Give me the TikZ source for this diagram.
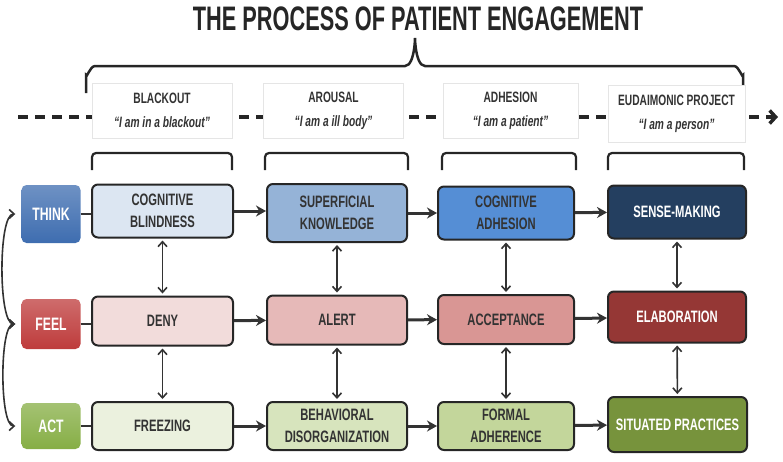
\documentclass[tikz,border=0pt]{standalone}
\usepackage{fontspec}
\setmainfont{Liberation Sans}[FakeStretch=0.68]
\newfontfamily\titlefont{Liberation Sans}[FakeStretch=0.64]
\usepackage{tikz}
\usetikzlibrary{arrows.meta,positioning}
\definecolor{txt}{HTML}{333333}
\definecolor{thinkc}{HTML}{3E6DB0}
\definecolor{feelc}{HTML}{BE3B3B}
\definecolor{actc}{HTML}{86AE45}
\definecolor{tone}{HTML}{DCE6F2}
\definecolor{ttwo}{HTML}{95B3D7}
\definecolor{tthree}{HTML}{558ED5}
\definecolor{tfour}{HTML}{243F60}
\definecolor{fone}{HTML}{F2DCDB}
\definecolor{ftwo}{HTML}{E6B9B8}
\definecolor{fthree}{HTML}{D99694}
\definecolor{ffour}{HTML}{953735}
\definecolor{aone}{HTML}{EBF1DE}
\definecolor{atwo}{HTML}{D7E4BD}
\definecolor{athree}{HTML}{C3D69B}
\definecolor{afour}{HTML}{77933C}

\begin{document}
\begin{tikzpicture}[x=1pt, y=-1pt,
  every node/.style={font=\fontsize{16.5}{22}\selectfont\bfseries, text=txt, align=center, inner sep=2pt},
  stagebox/.style={draw=black!85, line width=2pt, rounded corners=6pt, fill=#1},
  rowbox/.style={rounded corners=5pt, top color=#1!75!white, bottom color=#1, minimum width=59pt, text=white, font=\fontsize{18}{18}\selectfont\bfseries},
  headbox/.style={fill=white, draw=black!10, minimum width=140pt, minimum height=55pt, font=\fontsize{15}{24}\selectfont\bfseries},
  link/.style={line width=2pt, black!80},
  flow/.style={line width=3pt, black!80, -{Stealth[length=10pt,width=11pt]}},
  updown/.style={line width=1.6pt, black!80, {Straight Barb[length=5pt,width=9pt]}-{Straight Barb[length=5pt,width=9pt]}, shorten >=2pt, shorten <=2pt},
  bracket/.style={line width=2.2pt, black!85, rounded corners=4pt}]
  \useasboundingbox (0,0) rectangle (783,461);

  \node[font=\titlefont\fontsize{34}{34}\selectfont\bfseries, text=black!85] (title) at (418,19) {THE PROCESS OF PATIENT ENGAGEMENT};
  \draw[line width=2.5pt, black!85] (86,93) -- (86,75) to[out=-90,in=180] (95,66) -- (405,66) to[out=0,in=90] (415,40) to[out=90,in=180] (425,66) -- (734,66) to[out=0,in=-90] (743,75) -- (743,93);

  \coordinate (ds) at (18,117);
  \coordinate (de) at (778,117);
  \draw[line width=3.5pt, black!85, dash pattern=on 10pt off 7pt, -{Straight Barb[length=6pt,width=13pt]}] (ds) -- (de);

  \node[headbox] (h1) at (162,110.5) {BLACKOUT\\\textit{“I am in a blackout”}};
  \node[headbox] (h2) at (333.5,110.5) {AROUSAL\\\textit{“I am a ill body”}};
  \node[headbox, minimum width=135pt] (h3) at (510.5,110.5) {ADHESION\\\textit{“I am a patient”}};
  \node[headbox, minimum width=137pt, minimum height=57pt] (h4) at (676.5,113.5) {EUDAIMONIC PROJECT\\\textit{“I am a person”}};

  \draw[bracket] (92,170) |- (232,153) -- (232,170);
  \draw[bracket] (265,170) |- (408,153) -- (408,170);
  \draw[bracket] (442,170) |- (576,153) -- (576,170);
  \draw[bracket] (608,170) |- (744,153) -- (744,170);

  \node[rowbox=thinkc, minimum height=58pt] (think) at (51,214) {THINK};
  \node[rowbox=feelc, minimum height=50pt] (feel) at (51,324) {FEEL};
  \node[rowbox=actc, minimum height=46pt] (act) at (51,426) {ACT};

  \node[stagebox=tone, minimum width=141pt, minimum height=53pt] (t1) at (162.5,211) {COGNITIVE\\BLINDNESS};
  \node[stagebox=ttwo, minimum width=140pt, minimum height=58pt] (t2) at (337,213) {SUPERFICIAL\\KNOWLEDGE};
  \node[stagebox=tthree, minimum width=136pt, minimum height=53pt] (t3) at (506,213) {COGNITIVE\\ADHESION};
  \node[stagebox=tfour, minimum width=138pt, minimum height=53pt, text=white] (t4) at (677,212) {SENSE-MAKING};

  \node[stagebox=fone, minimum width=141pt, minimum height=49pt] (f1) at (162.5,321) {DENY};
  \node[stagebox=ftwo, minimum width=140pt, minimum height=49pt] (f2) at (337,320) {ALERT};
  \node[stagebox=fthree, minimum width=136pt, minimum height=49pt] (f3) at (506,319.5) {ACCEPTANCE};
  \node[stagebox=ffour, minimum width=138pt, minimum height=51pt, text=white] (f4) at (677,317) {ELABORATION};

  \node[stagebox=aone, minimum width=141pt, minimum height=48pt] (a1) at (162.5,426) {FREEZING};
  \node[stagebox=atwo, minimum width=140pt, minimum height=48pt] (a2) at (337,426) {BEHAVIORAL\\DISORGANIZATION};
  \node[stagebox=athree, minimum width=136pt, minimum height=48pt] (a3) at (506,426) {FORMAL\\ADHERENCE};
  \node[stagebox=afour, minimum width=139pt, minimum height=55pt, text=white] (a4) at (677.5,424.5) {SITUATED PRACTICES};

  \draw[link] (think) -- (think -| t1.west);
  \draw[link] (feel) -- (feel -| f1.west);
  \draw[link] (act) -- (act -| a1.west);

  \draw[flow] (t1.east) -- (t2.west |- t1.east);
  \draw[flow] (t2) -- (t3);
  \draw[flow] (t3) -- (t4);
  \draw[flow] (f1) -- (f2);
  \draw[flow] (f2) -- (f3);
  \draw[flow] (f3) -- (f4);
  \draw[flow] (a1) -- (a2);
  \draw[flow] (a2) -- (a3);
  \draw[flow] (a3) -- (a4);

  \draw[updown] (t1) -- (f1);
  \draw[updown] (f1) -- (a1);
  \draw[updown] (t2) -- (f2);
  \draw[updown] (f2) -- (a2);
  \draw[updown] (t3) -- (f3);
  \draw[updown] (f3) -- (a3);
  \draw[updown] (t4) -- (f4);
  \draw[updown] (f4) -- (a4);

  \draw[updown, shorten >=0pt, shorten <=0pt] ([xshift=-6pt]think.west) to[out=180,in=180,looseness=0.4] ([xshift=-6pt]feel.west);
  \draw[updown, shorten >=0pt, shorten <=0pt] ([xshift=-6pt]feel.west) to[out=180,in=180,looseness=0.4] ([xshift=-6pt]act.west);
\end{tikzpicture}
\end{document}
